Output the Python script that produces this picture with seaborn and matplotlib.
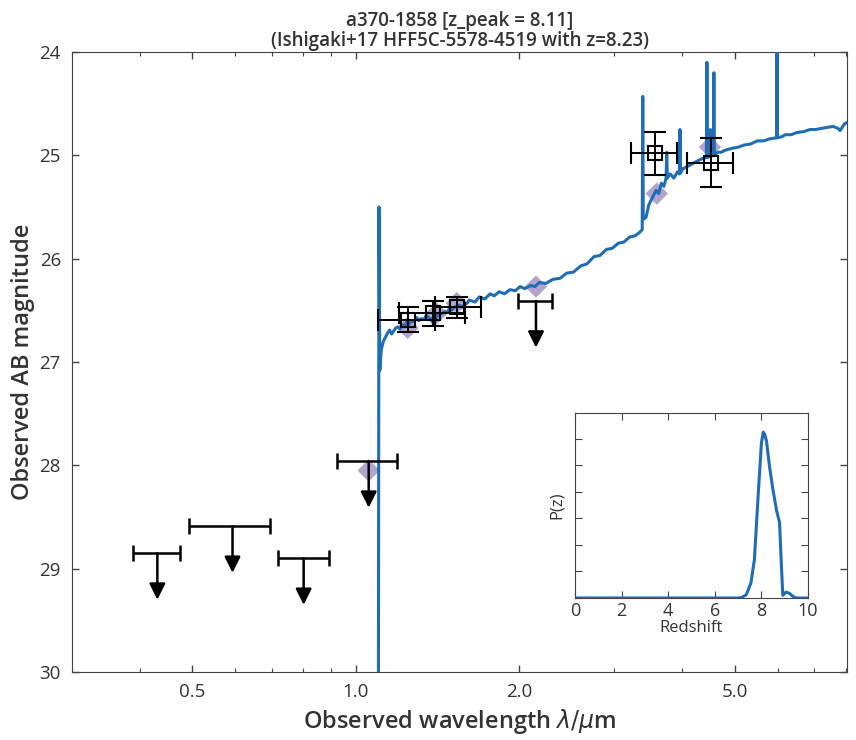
import matplotlib
matplotlib.use("Agg")
import matplotlib.pyplot as plt
from matplotlib.ticker import FixedLocator, LogLocator, NullFormatter, FormatStrFormatter, MultipleLocator
import seaborn as sns

# Model SED (observed wavelength in micron, AB mag)
sed_wave = [0.30, 1.100, 1.104, 1.108, 1.115, 1.125, 1.135, 1.145, 1.155, 1.165, 1.175, 1.186,
            1.196, 1.208, 1.22, 1.231, 1.242, 1.256, 1.27, 1.283, 1.296, 1.308, 1.32, 1.335,
            1.35, 1.362, 1.375, 1.388, 1.40, 1.415, 1.43, 1.445, 1.46, 1.475, 1.49, 1.505,
            1.52, 1.537, 1.555, 1.572, 1.59, 1.605, 1.62, 1.66, 1.69, 1.73, 1.77, 1.80, 1.84,
            1.88, 1.925, 1.97, 2.01, 2.05, 2.10, 2.14, 2.18, 2.24, 2.31, 2.38, 2.45, 2.52,
            2.60, 2.67, 2.75, 2.82, 2.90, 2.97, 3.05, 3.12, 3.20, 3.27, 3.33, 3.375, 3.383,
            3.39, 3.43, 3.47, 3.53, 3.58, 3.62, 3.66, 3.70, 3.735, 3.745, 3.755, 3.80, 3.86,
            3.92, 3.952, 3.962, 3.972, 4.01, 4.08, 4.18, 4.28, 4.36, 4.432, 4.442, 4.452, 4.50,
            4.508, 4.516, 4.565, 4.575, 4.585, 4.65, 4.72, 4.80, 4.88, 4.96, 5.08, 5.20, 5.35,
            5.50, 5.65, 5.80, 5.97, 5.98, 5.99, 6.10, 6.20, 6.35, 6.50, 6.70, 6.88, 7.05, 7.20,
            7.40, 7.59, 7.75, 7.82, 7.95, 8.05]
sed_mag = [33.0, 33.0, 25.50, 27.08, 26.88, 26.80, 26.76, 26.72, 26.69, 26.73, 26.70, 26.67,
           26.66, 26.68, 26.64, 26.66, 26.61, 26.63, 26.60, 26.61, 26.57, 26.60, 26.58, 26.59,
           26.55, 26.57, 26.58, 26.62, 26.60, 26.55, 26.54, 26.53, 26.51, 26.52, 26.48, 26.50,
           26.47, 26.46, 26.45, 26.47, 26.44, 26.43, 26.40, 26.42, 26.37, 26.39, 26.34, 26.36,
           26.32, 26.34, 26.30, 26.31, 26.27, 26.29, 26.26, 26.27, 26.23, 26.24, 26.20, 26.19,
           26.14, 26.13, 26.07, 26.05, 25.98, 25.97, 25.91, 25.90, 25.85, 25.84, 25.79, 25.78,
           25.75, 25.72, 24.43, 25.62, 25.60, 25.48, 25.40, 25.34, 25.37, 25.27, 25.30, 25.22,
           24.97, 25.22, 25.18, 25.22, 25.16, 25.18, 24.75, 25.17, 25.13, 25.11, 25.08, 25.05,
           25.03, 25.02, 24.10, 25.02, 25.01, 24.75, 25.01, 25.00, 24.20, 25.00, 24.97, 24.97,
           24.95, 24.94, 24.93, 24.92, 24.90, 24.89, 24.86, 24.86, 24.84, 24.83, 22.00, 24.83,
           24.82, 24.80, 24.80, 24.78, 24.77, 24.75, 24.75, 24.74, 24.73, 24.72, 24.74, 24.76,
           24.70, 24.68]

# Model photometry
model_wave = [1.057, 1.247, 1.41, 1.536, 2.15, 3.59, 4.50]
model_mag = [28.05, 26.67, 26.53, 26.43, 26.27, 25.37, 24.92]

# Detections
det_wave = [1.25, 1.39, 1.54, 3.56, 4.51]
det_lo = [1.10, 1.20, 1.40, 3.22, 4.08]
det_hi = [1.40, 1.59, 1.70, 3.91, 4.96]
det_mag = [26.59, 26.53, 26.47, 24.98, 25.07]
det_err = [0.12, 0.12, 0.10, 0.21, 0.24]

# Upper limits
lim_wave = [0.431, 0.593, 0.802, 1.057, 2.15]
lim_lo = [0.388, 0.494, 0.718, 0.923, 1.99]
lim_hi = [0.475, 0.694, 0.892, 1.19, 2.30]
lim_mag = [28.85, 28.59, 28.90, 27.96, 26.41]
arrow_len = 0.45

# P(z)
pz_z = [0.0, 7.0, 7.15, 7.35, 7.55, 7.70, 7.85, 8.00, 8.08, 8.14, 8.22, 8.35, 8.50, 8.65,
        8.78, 8.86, 8.92, 9.06, 9.20, 9.35, 9.50, 10.0]
pz_p = [0.0, 0.0, 0.01, 0.06, 0.28, 0.72, 1.84, 2.91, 3.12, 3.08, 2.95, 2.47, 2.03, 1.65,
        1.42, 0.60, 0.05, 0.11, 0.09, 0.03, 0.0, 0.0]

sns.set_style("ticks")
plt.rcParams["font.family"] = ["Open Sans", "DejaVu Sans"]
plt.rcParams["text.color"] = "#333333"
plt.rcParams["axes.labelcolor"] = "#333333"
plt.rcParams["xtick.color"] = "#444444"
plt.rcParams["ytick.color"] = "#444444"
plt.rcParams["xtick.labelcolor"] = "#333333"
plt.rcParams["ytick.labelcolor"] = "#333333"
plt.rcParams["axes.edgecolor"] = "#444444"

blue = "#1f6db4"

fig = plt.figure(figsize=(8.56, 7.4), dpi=100)
ax = fig.add_axes([0.0841, 0.0919, 0.9054, 0.8378])

sns.scatterplot(x=model_wave, y=model_mag, marker="D", s=130, color="#b3a4cd",
                edgecolor="none", ax=ax, zorder=2)
sns.lineplot(x=sed_wave, y=sed_mag, sort=False, estimator=None, color=blue, lw=2.2,
             ax=ax, zorder=3)

# detections
xerr = [[w - lo for w, lo in zip(det_wave, det_lo)], [hi - w for w, hi in zip(det_wave, det_hi)]]
ax.errorbar(det_wave, det_mag, xerr=xerr, yerr=det_err, fmt="s", ms=10, mfc="none",
            mec="k", mew=1.5, ecolor="k", elinewidth=1.4, capsize=8, capthick=1.6, zorder=4)

# upper limits
xerr = [[w - lo for w, lo in zip(lim_wave, lim_lo)], [hi - w for w, hi in zip(lim_wave, lim_hi)]]
ax.errorbar(lim_wave, lim_mag, xerr=xerr, fmt="none", ecolor="k", elinewidth=1.8,
            capsize=6, capthick=1.8, zorder=4)
for w, m in zip(lim_wave, lim_mag):
    ax.annotate("", xy=(w, m + arrow_len), xytext=(w, m), zorder=4,
                arrowprops=dict(arrowstyle="-|>,head_length=0.6,head_width=0.3",
                                mutation_scale=16, color="k", lw=1.8,
                                shrinkA=0, shrinkB=0))

ax.set_xscale("log")
ax.set_xlim(0.3, 8.05)
ax.set_ylim(30, 24)
ax.xaxis.set_major_locator(FixedLocator([0.5, 1.0, 2.0, 5.0]))
ax.xaxis.set_major_formatter(FormatStrFormatter("%.1f"))
ax.xaxis.set_minor_locator(LogLocator(base=10, subs=range(2, 10)))
ax.xaxis.set_minor_formatter(NullFormatter())
ax.yaxis.set_major_locator(MultipleLocator(1))
ax.tick_params(which="both", direction="in", top=True, right=True, labelsize=13.5, pad=8)
ax.tick_params(which="major", length=5, width=1)
ax.tick_params(which="minor", length=3, width=0.8)
ax.set_xlabel(r"Observed wavelength $\lambda/\mu$m", fontsize=17, fontweight="semibold")
ax.set_ylabel("Observed AB magnitude", fontsize=17, fontweight="semibold", labelpad=3)
ax.set_title("a370-1858 [z_peak = 8.11]\n(Ishigaki+17 HFF5C-5578-4519 with z=8.23)",
             fontsize=13.5, fontweight="semibold", pad=4, linespacing=1.0)

# inset P(z)
axin = fig.add_axes([0.6717, 0.1919, 0.2722, 0.25])
sns.lineplot(x=pz_z, y=pz_p, sort=False, estimator=None, color=blue, lw=2.2, ax=axin)
axin.set_xlim(0, 10)
axin.set_ylim(0, 3.48)
axin.xaxis.set_major_locator(MultipleLocator(2))
axin.yaxis.set_major_locator(MultipleLocator(0.5))
axin.set_yticklabels([])
axin.tick_params(direction="in", top=True, right=True, length=5, labelsize=13, pad=3)
axin.set_xlabel("Redshift", fontsize=12, labelpad=0)
axin.set_ylabel("P(z)", fontsize=12, labelpad=4)

fig.savefig("out.png", dpi=100)
